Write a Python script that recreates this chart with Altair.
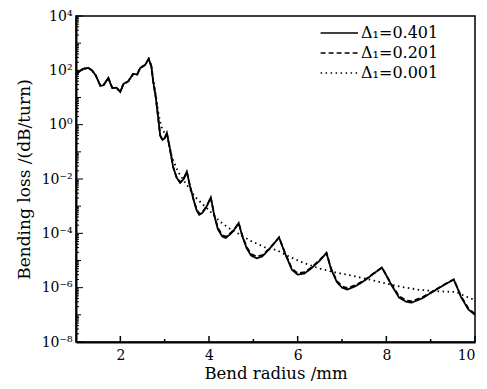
import altair as alt
import pandas as pd

# Bend radius (mm) and log10 of bending loss (dB/turn)
solid_x = [1.0, 1.06, 1.15, 1.28, 1.36, 1.44, 1.55, 1.62, 1.68, 1.73, 1.78, 1.82, 1.91, 2.0, 2.07, 2.18,
           2.29, 2.38, 2.45, 2.56, 2.64, 2.7, 2.74, 2.8, 2.85, 2.9, 2.95, 3.0, 3.05, 3.12, 3.19, 3.27,
           3.35, 3.43, 3.5, 3.57, 3.65, 3.72, 3.78, 3.85, 3.95, 4.04, 4.12, 4.2, 4.3, 4.38, 4.5, 4.6,
           4.67, 4.75, 4.85, 4.95, 5.08, 5.2, 5.35, 5.48, 5.58, 5.71, 5.87, 6.0, 6.15, 6.3, 6.5, 6.65,
           6.75, 6.88, 7.0, 7.12, 7.3, 7.5, 7.7, 7.9, 8.0, 8.11, 8.29, 8.45, 8.57, 8.8, 9.05, 9.3,
           9.52, 9.6, 9.68, 9.85, 10.0]
solid_log = [1.85, 1.94, 2.05, 2.09, 2.0, 1.83, 1.43, 1.45, 1.6, 1.72, 1.5, 1.35, 1.36, 1.21, 1.5, 1.6,
             1.87, 1.85, 2.09, 2.2, 2.42, 2.15, 1.6, 1.0, 0.3, -0.4, -0.56, -0.5, -0.3, -0.9, -1.55, -1.95,
             -2.14, -2.0, -1.73, -2.25, -2.75, -3.15, -3.32, -3.25, -3.0, -2.68, -3.35, -3.85, -4.12, -4.17, -4.0, -3.8,
             -3.62, -4.1, -4.55, -4.82, -4.92, -4.85, -4.6, -4.35, -4.15, -4.72, -5.34, -5.52, -5.48, -5.3, -5.0, -4.72,
             -5.3, -5.78, -6.0, -6.07, -5.95, -5.75, -5.5, -5.26, -5.55, -5.89, -6.37, -6.52, -6.55, -6.4, -6.15, -5.9,
             -5.7, -6.0, -6.33, -6.8, -7.0]
dashed_log = [1.85, 1.94, 2.05, 2.09, 2.0, 1.83, 1.43, 1.45, 1.6, 1.72, 1.5, 1.35, 1.36, 1.21, 1.5, 1.6,
              1.87, 1.85, 2.09, 2.2, 2.42, 2.15, 1.6, 1.0, 0.3, -0.4, -0.56, -0.5, -0.3, -0.9, -1.55, -1.95,
              -2.12, -1.98, -1.73, -2.25, -2.75, -3.12, -3.28, -3.22, -3.0, -2.68, -3.33, -3.8, -4.07, -4.12, -3.97, -3.78,
              -3.62, -4.08, -4.5, -4.76, -4.86, -4.8, -4.58, -4.34, -4.15, -4.7, -5.3, -5.47, -5.43, -5.27, -4.98, -4.72,
              -5.28, -5.74, -5.95, -6.02, -5.91, -5.73, -5.49, -5.26, -5.54, -5.86, -6.32, -6.47, -6.5, -6.36, -6.13, -5.89,
              -5.7, -5.99, -6.3, -6.76, -6.97]
dotted_x = [1.0, 1.06, 1.15, 1.28, 1.36, 1.44, 1.55, 1.62, 1.68, 1.73, 1.78, 1.82, 1.91, 2.0, 2.07, 2.18,
            2.29, 2.38, 2.45, 2.56, 2.64, 2.7, 2.74, 2.8, 2.85, 2.9, 2.95, 3.0, 3.05, 3.17, 3.3, 3.45,
            3.6, 3.7, 3.85, 4.0, 4.25, 4.43, 4.7, 4.97, 5.27, 5.53, 5.8, 6.12, 6.5, 6.88, 7.2, 7.62,
            8.0, 8.36, 8.75, 9.12, 9.57, 9.86, 10.0]
dotted_log = [1.85, 1.94, 2.05, 2.09, 2.0, 1.83, 1.43, 1.45, 1.6, 1.72, 1.5, 1.35, 1.36, 1.21, 1.5, 1.6,
              1.87, 1.85, 2.09, 2.2, 2.42, 2.15, 1.7, 1.1, 0.5, 0.1, -0.2, -0.3, -0.4, -1.22, -1.73, -2.1,
              -2.45, -2.68, -2.92, -3.15, -3.57, -3.79, -4.05, -4.3, -4.52, -4.62, -4.85, -5.08, -5.3, -5.45, -5.55, -5.7,
              -5.85, -5.98, -6.08, -6.13, -6.16, -6.37, -6.45]

series_names = ["Δ₁=0.401", "Δ₁=0.201", "Δ₁=0.001"]

y_major = [1e-8, 1e-6, 1e-4, 1e-2, 1e0, 1e2, 1e4]
y_mid = [1e-7, 1e-5, 1e-3, 1e-1, 1e1, 1e3]
y_minor = [m * 10.0 ** k for k in range(-8, 4) for m in range(2, 10)]
x_major = [2, 4, 6, 8, 10]
x_minor = [3, 5, 7, 9]

rows = []
for x, l in zip(solid_x, solid_log):
    rows.append({"r": x, "loss": 10.0 ** l, "s": series_names[0], "o": 2})
for x, l in zip(solid_x, dashed_log):
    rows.append({"r": x, "loss": 10.0 ** l, "s": series_names[1], "o": 1})
for x, l in zip(dotted_x, dotted_log):
    rows.append({"r": x, "loss": 10.0 ** l, "s": series_names[2], "o": 0})
df = pd.DataFrame(rows)

W, H = 399, 326
FONT = "DejaVu Serif"

xscale = alt.Scale(domain=[1, 10], nice=False, zero=False)
yscale = alt.Scale(type="log", domain=[1e-8, 1e4], nice=False)

label_expr = ("datum.value >= 9999 ? '10⁴' : datum.value >= 99 ? '10²' : datum.value >= 0.99 ? '10⁰' : "
              "datum.value >= 0.0099 ? '10⁻²' : datum.value >= 0.000099 ? '10⁻⁴' : "
              "datum.value >= 0.00000099 ? '10⁻⁶' : '10⁻⁸'")

lines = alt.Chart(df).mark_line(color="black", strokeWidth=1.8).encode(
    x=alt.X("r:Q", scale=xscale,
            axis=alt.Axis(title="Bend radius /mm", values=x_major, ticks=False, grid=False,
                          labelFontSize=14, titleFontSize=16.5, labelPadding=6, titlePadding=3,
                          domainWidth=2, domainColor="black", labelFont=FONT, titleFont=FONT,
                          labelColor="black", titleColor="black", titleFontWeight="normal")),
    y=alt.Y("loss:Q", scale=yscale,
            axis=alt.Axis(title="Bending loss /(dB/turn)", values=y_major, labelExpr=label_expr,
                          ticks=False, grid=False, labelFontSize=14, titleFontSize=17, labelPadding=4,
                          titlePadding=8, domainWidth=2, domainColor="black", labelFont=FONT,
                          titleFont=FONT, labelColor="black", titleColor="black",
                          titleFontWeight="normal")),
    strokeDash=alt.StrokeDash("s:N", scale=alt.Scale(domain=series_names, range=[[1, 0], [5, 3], [1.5, 3.5]]),
                              legend=alt.Legend(title=None, orient="none", legendX=259, legendY=5,
                                                symbolType="M-2.4,0H1", symbolSize=484, symbolStrokeWidth=1.5,
                                                symbolStrokeColor="black", labelFont=FONT, labelFontSize=16,
                                                labelColor="black", rowPadding=0, labelOffset=2)),
    order=alt.Order("o:Q"),
    detail="s:N",
)

def yticks(vals, length):
    return alt.Chart(pd.DataFrame({"v": vals})).mark_rule(color="black", strokeWidth=1).encode(
        y=alt.Y("v:Q", scale=yscale), x=alt.value(0), x2=alt.value(length))

def xticks(vals, length):
    return alt.Chart(pd.DataFrame({"v": vals})).mark_rule(color="black", strokeWidth=1.5).encode(
        x=alt.X("v:Q", scale=xscale), y=alt.value(H), y2=alt.value(H - length))

chart = alt.layer(
    lines,
    yticks(y_major, 7), yticks(y_mid, 5), yticks(y_minor, 3),
    xticks(x_major, 6), xticks(x_minor, 3),
).properties(
    width=W, height=H,
    autosize=alt.AutoSizeParams(type="none"),
    padding={"left": 76, "top": 16, "right": 12, "bottom": 47},
    background="white",
).configure_view(stroke="black", strokeWidth=1.5)

chart.save("out.html", embed_options={"renderer": "svg", "actions": False})
